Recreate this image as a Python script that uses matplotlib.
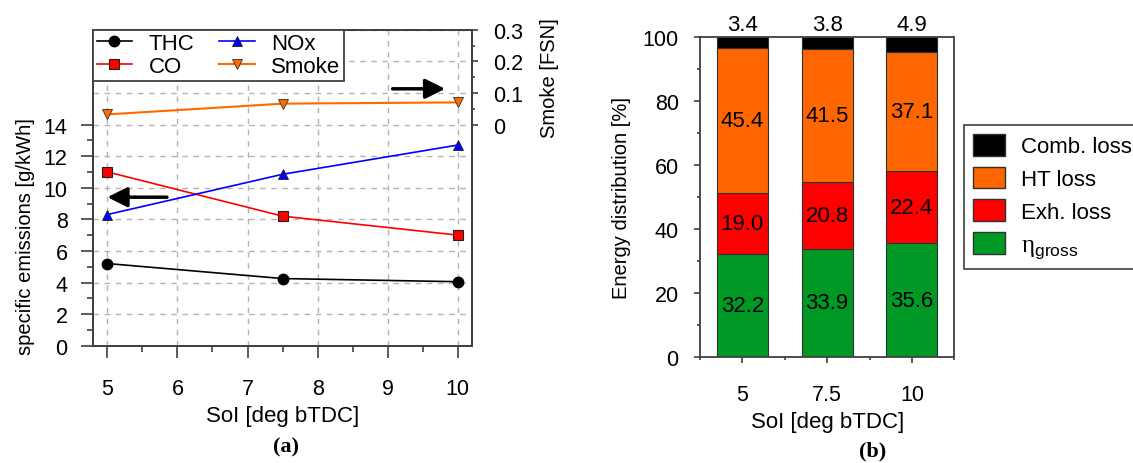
import matplotlib
matplotlib.use("Agg")
import matplotlib.pyplot as plt
from matplotlib.patches import Patch
from matplotlib.ticker import MultipleLocator

plt.rcParams['font.family'] = ['Liberation Sans', 'DejaVu Sans']
plt.rcParams['mathtext.fontset'] = 'custom'
plt.rcParams['mathtext.rm'] = 'Liberation Sans'

# (a) emissions vs start of injection
soi = [5, 7.5, 10]
thc = [5.2, 4.25, 4.05]
co = [11.0, 8.2, 7.0]
nox = [8.3, 10.85, 12.7]
smoke = [0.032, 0.066, 0.070]

# (b) energy distribution
soi_labels = ['5', '7.5', '10']
eta_gross = [32.2, 33.9, 35.6]
exh_loss = [19.0, 20.8, 22.4]
ht_loss = [45.4, 41.5, 37.1]
comb_loss = [3.4, 3.8, 4.9]

spine_col = '#404040'
fs_tick = 15.5   # horizontal text
fs_lab = 16
fs_ylab = 14.5   # rotated text

fig = plt.figure(figsize=(11.33, 4.64), dpi=100)

# ---------------- left plot ----------------
ax = fig.add_axes([0.0824, 0.2528, 0.3340, 0.6810])
ax2 = ax.twinx()

ax.plot(soi, thc, color='black', marker='o', ms=7.5, mfc='black', mec='black', lw=1.2, label='THC')
ax.plot(soi, co, color='red', marker='s', ms=7.5, mfc='red', mec='#202020', mew=0.8, lw=1.2, label='CO')
ax.plot(soi, nox, color='blue', marker='^', ms=6.5, mfc='blue', mec='#202020', mew=0.6, lw=1.2, label='NOx')
ax2.plot(soi, smoke, color='#ff6a00', marker='v', ms=6.5, mfc='#ff6a00', mec='#303030', mew=0.6, lw=1.5, label='Smoke')

ax.set_xlim(4.8, 10.2)
ax.set_ylim(0, 20)
ax2.set_ylim(-0.7, 0.3)

ax.set_xticks([5, 6, 7, 8, 9, 10])
ax.set_xticks([5.5, 6.5, 7.5, 8.5, 9.5], minor=True)
ax.set_yticks(range(0, 15, 2))
ax.set_yticks(range(1, 14, 2), minor=True)
ax2.set_yticks([0, 0.1, 0.2, 0.3])
ax2.set_yticklabels(['0', '0.1', '0.2', '0.3'])
ax2.set_yticks([0.05, 0.15, 0.25], minor=True)

# dashed grid over the whole box
for gx in [5, 6, 7, 8, 9, 10]:
    ax.axvline(gx, color='#b4b4b4', ls=(0, (4, 4)), lw=1, zorder=0)
for gy in range(0, 21, 2):
    ax.axhline(gy, color='#b4b4b4', ls=(0, (4, 4)), lw=1, zorder=0)

ax.tick_params(axis='x', which='major', direction='out', length=8.5, width=1.2, pad=15, labelsize=fs_tick, color=spine_col)
ax.tick_params(axis='x', which='minor', direction='out', length=4.3, width=1.2, color=spine_col)
ax.tick_params(axis='y', which='major', direction='out', length=8.5, width=1.2, pad=10, labelsize=fs_tick, color=spine_col)
ax.tick_params(axis='y', which='minor', direction='out', length=4.3, width=1.2, color=spine_col)
ax2.tick_params(axis='y', which='major', direction='out', length=4.3, width=1.2, pad=11, labelsize=fs_tick, color=spine_col)
ax2.tick_params(axis='y', which='minor', direction='out', length=2.5, width=1.2, color=spine_col)

for a in (ax, ax2):
    for s in a.spines.values():
        s.set_color(spine_col)
        s.set_linewidth(1.3)

ax.set_xlabel('SoI [deg bTDC]', fontsize=fs_lab, labelpad=4)
ax.set_ylabel('specific emissions [g/kWh]', fontsize=fs_ylab)
ax.yaxis.set_label_coords(-0.155, 0.35)
ax2.set_ylabel('Smoke [FSN]', fontsize=fs_ylab)
ax2.yaxis.set_label_coords(1.18, 0.85)

ax2.annotate('', xy=(5.0, -0.23), xytext=(5.85, -0.23),
             arrowprops=dict(arrowstyle='-|>', lw=2.5, color='black', mutation_scale=30,
                             shrinkA=0, shrinkB=0))
ax2.annotate('', xy=(9.82, 0.113), xytext=(9.07, 0.113),
             arrowprops=dict(arrowstyle='-|>', lw=2.5, color='black', mutation_scale=30,
                             shrinkA=0, shrinkB=0))

h1, l1 = ax.get_legend_handles_labels()
h2, l2 = ax2.get_legend_handles_labels()
leg = ax2.legend(h1 + h2, l1 + l2, ncol=2, loc='upper left', bbox_to_anchor=(0, 1),
                 borderaxespad=0, fontsize=fs_lab, frameon=True, fancybox=False,
                 handlelength=1.6, handletextpad=0.75, columnspacing=1.1,
                 labelspacing=0.1, borderpad=0.15)
leg.get_frame().set_edgecolor(spine_col)
leg.get_frame().set_linewidth(1.3)
leg.get_frame().set_alpha(1)

fig.text(0.2525, 0.036, '(a)', fontsize=16, fontweight='bold', family='Liberation Serif', ha='center', va='center')

# ---------------- right plot ----------------
bx = fig.add_axes([0.6178, 0.2278, 0.2245, 0.6910])
pos = list(range(len(soi_labels)))
w = 0.6
bottom1 = eta_gross
bottom2 = [a + b for a, b in zip(eta_gross, exh_loss)]
bottom3 = [a + b for a, b in zip(bottom2, ht_loss)]

ec = '#303030'
bx.bar(pos, eta_gross, w, color='#009926', edgecolor=ec, lw=0.8)
bx.bar(pos, exh_loss, w, bottom=bottom1, color='#ff0000', edgecolor=ec, lw=0.8)
bx.bar(pos, ht_loss, w, bottom=bottom2, color='#ff6600', edgecolor=ec, lw=0.8)
bx.bar(pos, comb_loss, w, bottom=bottom3, color='black', edgecolor=ec, lw=0.8)

for i in pos:
    bx.text(i, eta_gross[i] / 2, f'{eta_gross[i]:.1f}', ha='center', va='center', fontsize=fs_lab)
    bx.text(i, bottom1[i] + exh_loss[i] / 2, f'{exh_loss[i]:.1f}', ha='center', va='center', fontsize=fs_lab)
    bx.text(i, bottom2[i] + ht_loss[i] / 2, f'{ht_loss[i]:.1f}', ha='center', va='center', fontsize=fs_lab)
    bx.text(i, 103.8, f'{comb_loss[i]:.1f}', ha='center', va='center', fontsize=fs_lab, clip_on=False)

bx.set_xlim(-0.5, 2.5)
bx.set_ylim(0, 100)
bx.set_xticks(pos)
bx.set_xticklabels(soi_labels)
bx.set_xticks([-0.5, 0.5, 1.5, 2.5], minor=True)
bx.yaxis.set_major_locator(MultipleLocator(20))
bx.yaxis.set_minor_locator(MultipleLocator(10))
bx.tick_params(axis='x', which='major', direction='out', length=4.3, width=1.2, pad=15, labelsize=fs_tick, color=spine_col)
bx.tick_params(axis='x', which='minor', direction='out', length=2.5, width=1.2, color=spine_col)
bx.tick_params(axis='y', which='major', direction='out', length=4.3, width=1.2, pad=11, labelsize=fs_tick, color=spine_col)
bx.tick_params(axis='y', which='minor', direction='out', length=2.5, width=1.2, color=spine_col)
for s in bx.spines.values():
    s.set_color(spine_col)
    s.set_linewidth(1.3)

bx.set_xlabel('SoI [deg bTDC]', fontsize=fs_lab, labelpad=4)
bx.set_ylabel('Energy distribution [%]', fontsize=fs_ylab, labelpad=8)

handles = [Patch(facecolor='black', edgecolor=ec),
           Patch(facecolor='#ff6600', edgecolor=ec),
           Patch(facecolor='#ff0000', edgecolor=ec),
           Patch(facecolor='#009926', edgecolor=ec)]
labels = ['Comb. loss', 'HT loss', 'Exh. loss', 'η$_{\\mathrm{gross}}$']
leg2 = fig.legend(handles, labels, loc='upper left', bbox_to_anchor=(964.3 / 1133, (464 - 126) / 464),
                  fontsize=fs_lab, frameon=True, fancybox=False, handlelength=1.45, handleheight=1.13,
                  handletextpad=0.7, labelspacing=0.42, borderpad=0.4, borderaxespad=0)
leg2.get_frame().set_edgecolor(spine_col)
leg2.get_frame().set_linewidth(1.2)
leg2.get_frame().set_alpha(1)
leg2.get_texts()[3].set_family(['Liberation Serif', 'DejaVu Serif'])
leg2.get_texts()[3].set_fontsize(18)

fig.text(873 / 1133, 0.027, '(b)', fontsize=16, fontweight='bold', family='Liberation Serif', ha='center', va='center')

fig.savefig('out.png', dpi=100)
